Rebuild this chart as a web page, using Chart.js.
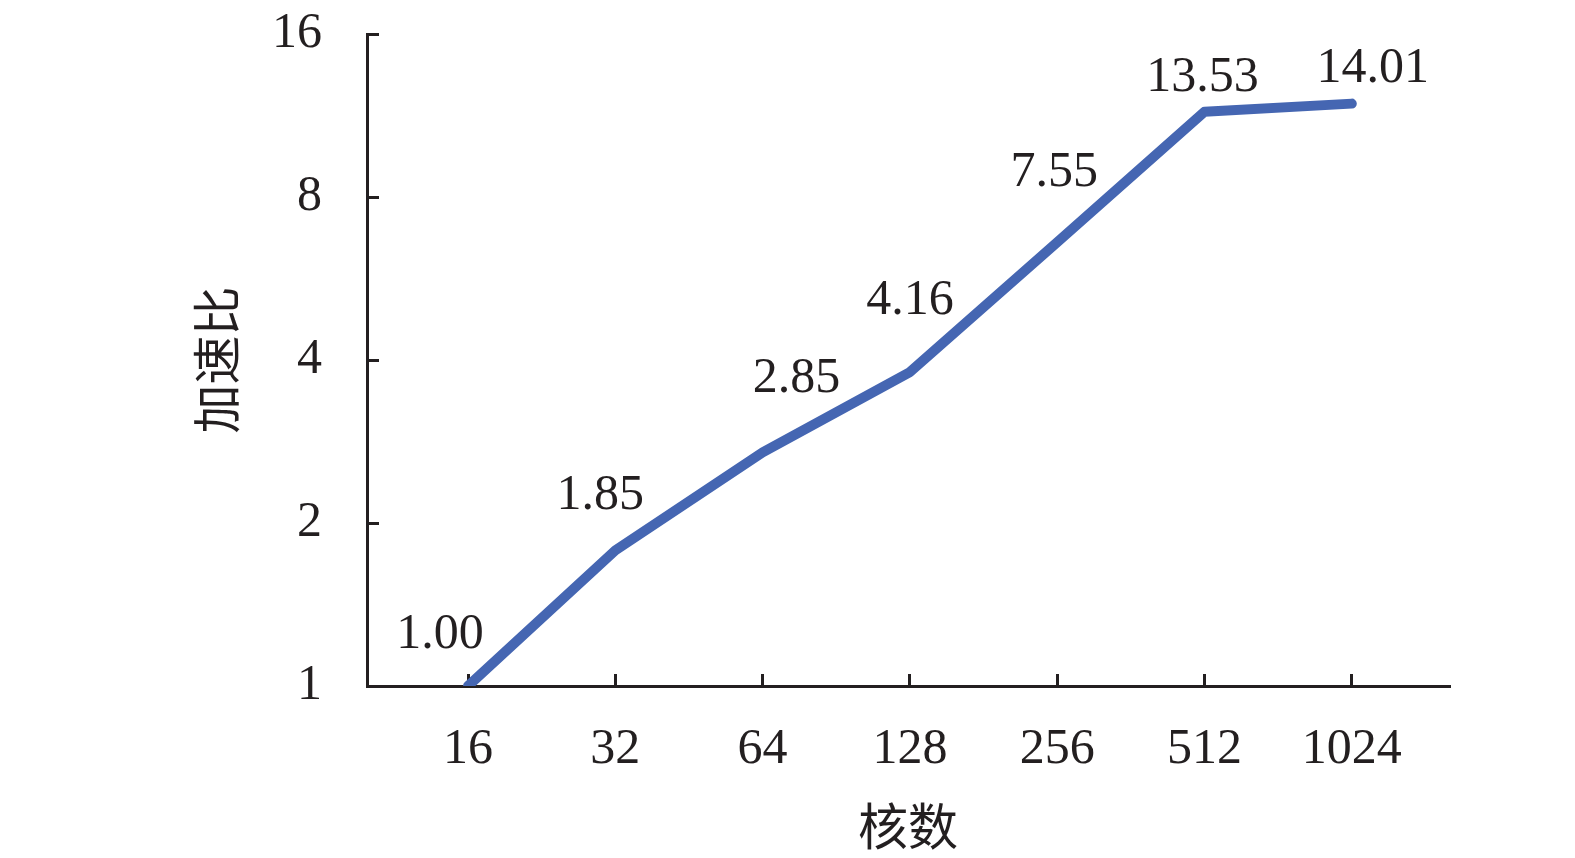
<!DOCTYPE html>
<html>
<head>
<meta charset="utf-8">
<script src="https://cdn.jsdelivr.net/npm/chart.js@4.4.1/dist/chart.umd.min.js"></script>
<style>
  html, body { margin: 0; padding: 0; background: #fff; }
  #wrap { width: 1575px; height: 858px; }
</style>
</head>
<body>
<div id="wrap"><canvas id="speedup"></canvas></div>
<script>
// cores on the x axis
const cores = ["16", "32", "64", "128", "256", "512", "1024"];
// speedup printed above each point
const speedupText = ["1.00", "1.85", "2.85", "4.16", "7.55", "13.53", "14.01"];
// where the line is actually drawn in the picture (log2 axis)
const speedupLine = [1.00, 1.78, 2.70, 3.80, 6.6, 11.5, 11.9];
// y tick values
const yTicks = [1, 2, 4, 8, 16];

const ink = "#231f20";
const blue = "#4566b2";
const serif = "'Liberation Serif', 'Times New Roman', serif";
const cjk = "'Noto Sans CJK SC', sans-serif";

// nudges for the value labels, relative to each point
const labelShift = [[-28, -51], [-15, -55], [34, -74], [0, -71], [-3, -69], [-2, -34], [21, -35]];

const valueLabels = {
    id: "valueLabels",
    afterDatasetsDraw(chart) {
        const ctx = chart.ctx;
        const meta = chart.getDatasetMeta(0);
        ctx.save();
        ctx.font = "50px " + serif;
        ctx.fillStyle = ink;
        ctx.textAlign = "center";
        ctx.textBaseline = "middle";
        meta.data.forEach((pt, i) => {
            ctx.fillText(speedupText[i], pt.x + labelShift[i][0], pt.y + labelShift[i][1]);
        });
        ctx.restore();
    }
};

new Chart(document.getElementById("speedup"), {
    type: "line",
    data: {
        datasets: [{
            data: cores.map((c, i) => ({ x: i, y: speedupLine[i] })),
            borderColor: blue,
            borderWidth: 10,
            borderCapStyle: "round",
            borderJoinStyle: "round",
            pointRadius: 0,
            tension: 0,
            clip: 0
        }]
    },
    options: {
        responsive: true,
        maintainAspectRatio: false,
        animation: false,
        layout: { padding: { left: 0, right: 126, top: 34, bottom: 0 } },
        plugins: { legend: { display: false }, tooltip: { enabled: false } },
        scales: {
            x: {
                type: "linear",
                min: -0.686,
                max: 6.66,
                afterBuildTicks: s => { s.ticks = cores.map((c, i) => ({ value: i })); },
                afterFit: s => { s.height = 172; s.paddingLeft = 0; s.paddingRight = 0; },
                ticks: {
                    callback: v => cores[v],
                    color: ink,
                    font: { family: serif, size: 50 },
                    padding: 46
                },
                grid: { drawOnChartArea: false, color: ink, lineWidth: 3, tickLength: -12 },
                border: { color: ink, width: 3 },
                title: {
                    display: true,
                    text: "核数",
                    color: ink,
                    font: { family: cjk, size: 50 },
                    padding: { top: 0, bottom: 2 }
                }
            },
            y: {
                type: "logarithmic",
                min: 1,
                max: 16,
                afterBuildTicks: s => { s.ticks = yTicks.map(v => ({ value: v })); },
                afterFit: s => { s.width = 367; s.paddingTop = 0; s.paddingBottom = 0; },
                ticks: {
                    callback: v => String(v),
                    color: ink,
                    font: { family: serif, size: 50 },
                    padding: 57
                },
                grid: { drawOnChartArea: false, color: ink, lineWidth: 3, tickLength: -12 },
                border: { color: ink, width: 3 },
                title: {
                    display: true,
                    text: "加速比",
                    color: ink,
                    font: { family: cjk, size: 49 },
                    padding: { top: 187, bottom: 0 }
                }
            }
        }
    },
    plugins: [valueLabels]
});
</script>
</body>
</html>
